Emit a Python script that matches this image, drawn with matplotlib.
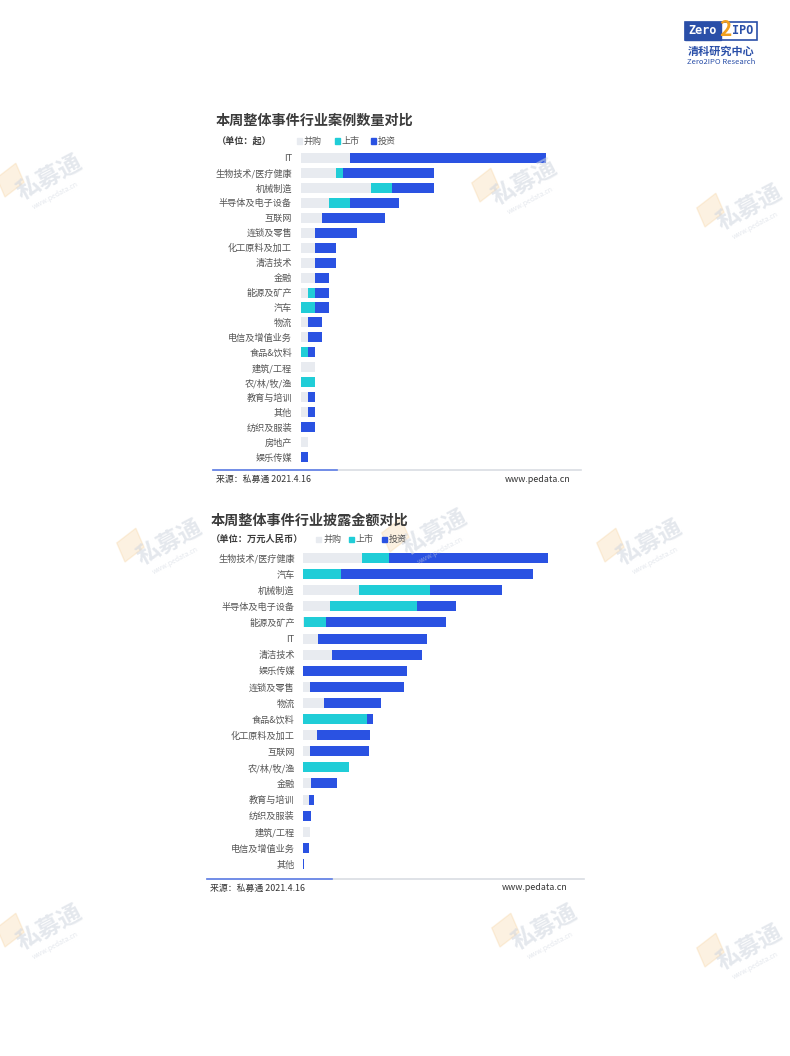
import matplotlib
matplotlib.use('Agg')
import matplotlib.pyplot as plt
import numpy as np
from matplotlib.lines import Line2D
from matplotlib.patches import Rectangle

plt.rcParams['font.family'] = ['Noto Sans CJK SC', 'DejaVu Sans']

# Data ========================================================================
# chart 1: number of cases (起)
count_cats = ['IT', '生物技术/医疗健康', '机械制造', '半导体及电子设备', '互联网',
              '连锁及零售', '化工原料及加工', '清洁技术', '金融', '能源及矿产', '汽车',
              '物流', '电信及增值业务', '食品&饮料', '建筑/工程', '农/林/牧/渔',
              '教育与培训', '其他', '纺织及服装', '房地产', '娱乐传媒']
count_ma = [7, 5, 10, 4, 3, 2, 2, 2, 2, 1, 0, 1, 1, 0, 2, 0, 1, 1, 0, 1, 0]
count_ipo = [0, 1, 3, 3, 0, 0, 0, 0, 0, 1, 2, 0, 0, 1, 0, 2, 0, 0, 0, 0, 0]
count_inv = [28, 13, 6, 7, 9, 6, 3, 3, 2, 2, 2, 2, 2, 1, 0, 0, 1, 1, 2, 0, 1]

# chart 2: disclosed amount (万元人民币)
amt_cats = ['生物技术/医疗健康', '汽车', '机械制造', '半导体及电子设备', '能源及矿产',
            'IT', '清洁技术', '娱乐传媒', '连锁及零售', '物流', '食品&饮料',
            '化工原料及加工', '互联网', '农/林/牧/渔', '金融', '教育与培训',
            '纺织及服装', '建筑/工程', '电信及增值业务', '其他']
amt_ma = [17800, 0, 16700, 8000, 400, 4600, 8600, 0, 2000, 6300, 0,
          4300, 2200, 0, 2500, 1700, 0, 2000, 0, 0]
amt_ipo = [7900, 11500, 21300, 26100, 6400, 0, 0, 0, 0, 0, 19100,
           0, 0, 13900, 0, 0, 0, 0, 0, 0]
amt_inv = [47700, 57500, 21600, 11800, 36200, 32500, 27100, 31100, 28300, 17200, 1800,
           15800, 17700, 0, 7700, 1500, 2300, 0, 1800, 300]

C_MA = '#E8EBF0'
C_IPO = '#20CDD7'
C_INV = '#2A52E2'
TXT = '#555555'

W, H = 790, 1056
fig = plt.figure(figsize=(W / 100, H / 100), dpi=100)
fig.patch.set_facecolor('white')


def fx(x):
    return x / W


def fy(y):
    return 1 - y / H


def px_axes(left, right, top, bottom):
    return fig.add_axes([fx(left), fy(bottom), (right - left) / W, (bottom - top) / H])


def draw_bars(ax, cats, ma, ipo, inv, h, xmax, pad):
    y = np.arange(len(cats))
    ma = np.array(ma)
    ipo = np.array(ipo)
    inv = np.array(inv)
    ax.barh(y, ma, height=h, color=C_MA)
    ax.barh(y, ipo, left=ma, height=h, color=C_IPO)
    ax.barh(y, inv, left=ma + ipo, height=h, color=C_INV)
    ax.set_yticks(y)
    ax.set_yticklabels(cats, fontsize=6.6, color=TXT)
    ax.tick_params(axis='y', length=0, pad=pad)
    ax.set_xticks([])
    ax.set_xlim(0, xmax)
    ax.set_ylim(len(cats) - 0.5, -0.5)
    for s in ax.spines.values():
        s.set_visible(False)
    ax.patch.set_alpha(0)


def legend(xs, yc):
    names = ['并购', '上市', '投资']
    cols = [C_MA, C_IPO, C_INV]
    for x, n, c in zip(xs, names, cols):
        fig.patches.append(Rectangle((fx(x), fy(yc + 2.5)), 5 / W, 5 / H,
                                     transform=fig.transFigure, color=c))
        fig.text(fx(x + 7), fy(yc), n, fontsize=6.5, color=TXT, va='center', ha='left')


def footer(x0, x1, xb, y, ty, tright):
    fig.add_artist(Line2D([fx(x0), fx(x1)], [fy(y), fy(y)], color='#d9dde3', lw=1.2))
    fig.add_artist(Line2D([fx(x0), fx(xb)], [fy(y), fy(y)], color='#5f7fe8', lw=1.2))
    fig.text(fx(x0 + 3), fy(ty), '来源：私募通 2021.4.16', fontsize=6.4, color='#333333',
             va='center', ha='left')
    fig.text(fx(tright), fy(ty), 'www.pedata.cn', fontsize=6.4, color='#333333',
             va='center', ha='right')


# watermarks ==================================================================
marks = [(45, 185), (520, 190), (745, 215), (165, 550), (430, 540), (645, 550),
         (45, 935), (540, 935), (745, 955)]
for x, y in marks:
    fig.patches.append(Rectangle((fx(x - 40), fy(y + 12)), 22 / W, 22 / H,
                                 transform=fig.transFigure, color='#f5c98a', alpha=0.25,
                                 angle=30))
    fig.text(fx(x + 5), fy(y - 8), '私募通', fontsize=17, fontweight='bold',
             color='#cfd5df', alpha=0.55, rotation=28, ha='center', va='center')
    fig.text(fx(x + 10), fy(y + 10), 'www.pedata.cn', fontsize=5, color='#cfd5df',
             alpha=0.55, rotation=28, ha='center', va='center')

# header logo =================================================================
fig.patches.append(Rectangle((fx(685), fy(40)), 72 / W, 18 / H, transform=fig.transFigure,
                             facecolor='white', edgecolor='#2a4fa8', lw=1.2))
fig.patches.append(Rectangle((fx(685), fy(40)), 36 / W, 18 / H, transform=fig.transFigure,
                             color='#2a4fa8'))
fig.text(fx(703), fy(31), 'Zero', fontsize=8.5, fontweight='bold', color='white',
         ha='center', va='center', family='DejaVu Sans Mono')
fig.text(fx(725), fy(30), '2', fontsize=15, fontweight='bold', color='#f0a020',
         ha='center', va='center')
fig.text(fx(743), fy(31), 'IPO', fontsize=8.5, fontweight='bold', color='#2a4fa8',
         ha='center', va='center', family='DejaVu Sans Mono')
fig.text(fx(721), fy(51), '清科研究中心', fontsize=8, fontweight='bold', color='#2a4fa8',
         ha='center', va='center')
fig.text(fx(721), fy(62), 'Zero2IPO Research', fontsize=5.5, color='#2a4fa8',
         ha='center', va='center')

# chart 1 =====================================================================
fig.text(fx(216), fy(121), '本周整体事件行业案例数量对比', fontsize=10.2, fontweight='bold',
         color='#3c3c3c', va='center', ha='left')
fig.text(fx(217), fy(141), '（单位：起）', fontsize=6.6, fontweight='bold',
         color='#3c3c3c', va='center', ha='left')
legend([297, 335, 371], 141)
ax1 = px_axes(301, 581, 150.5, 464.5)
draw_bars(ax1, count_cats, count_ma, count_ipo, count_inv, 0.67, 40, 6.5)
footer(213, 581, 337, 470, 479, 571)

# chart 2 =====================================================================
fig.text(fx(211), fy(521), '本周整体事件行业披露金额对比', fontsize=10.2, fontweight='bold',
         color='#3c3c3c', va='center', ha='left')
fig.text(fx(211), fy(539), '（单位：万元人民币）', fontsize=6.7, fontweight='bold',
         color='#3c3c3c', va='center', ha='left')
legend([316, 349, 382], 539)
ax2 = px_axes(303, 585, 550, 872)
draw_bars(ax2, amt_cats, amt_ma, amt_ipo, amt_inv, 0.62, 84600, 6)
footer(207, 584, 332, 879, 888, 568)

fig.savefig('out.png', dpi=100, facecolor='white')
plt.close()
